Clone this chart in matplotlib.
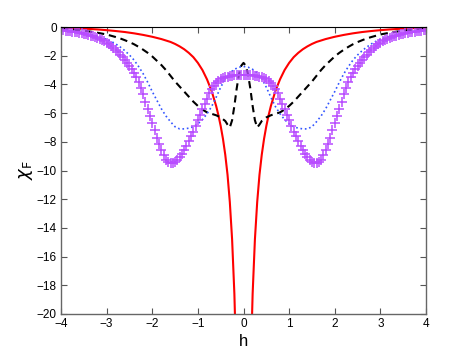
import numpy as np
import matplotlib
matplotlib.use("Agg")
import matplotlib.pyplot as plt

plt.rcParams['font.family'] = ['Liberation Sans', 'DejaVu Sans']

# curves are symmetric in h, values read for h >= 0 and mirrored

# magenta plus markers, h = 0 .. 4 step 0.05
h_plus = np.round(np.arange(0, 4.0001, 0.05), 2)
chi_plus = [-3.35, -3.35, -3.35, -3.35, -3.36, -3.38, -3.40, -3.45, -3.50, -3.57,
            -3.65, -3.76, -3.90, -4.08, -4.30, -4.62, -5.00, -5.35, -5.70, -6.10,
            -6.50, -6.90, -7.30, -7.63, -7.95, -8.28, -8.60, -8.85, -9.05, -9.25,
            -9.40, -9.48, -9.50, -9.42, -9.25, -8.95, -8.60, -8.17, -7.70, -7.20,
            -6.70, -6.20, -5.70, -5.20, -4.70, -4.25, -3.85, -3.50, -3.20, -2.93,
            -2.70, -2.48, -2.30, -2.12, -1.95, -1.77, -1.60, -1.45, -1.32, -1.20,
            -1.10, -1.00, -0.92, -0.85, -0.78, -0.72, -0.66, -0.61, -0.56, -0.52,
            -0.48, -0.44, -0.41, -0.38, -0.35, -0.32, -0.30, -0.28, -0.26, -0.24,
            -0.22]

# blue dotted
h_dot = [0.0, 0.1, 0.2, 0.3, 0.4, 0.5, 0.6, 0.7, 0.8, 0.9, 1.0, 1.1, 1.2, 1.3,
         1.4, 1.5, 1.6, 1.7, 1.8, 1.9, 2.0, 2.1, 2.2, 2.3, 2.4, 2.5, 2.6, 2.7,
         2.8, 2.9, 3.0, 3.2, 3.4, 3.6, 3.8, 4.0]
chi_dot = [-2.75, -2.8, -2.95, -3.2, -3.6, -4.2, -4.9, -5.55, -6.05, -6.45,
           -6.75, -6.95, -7.05, -7.1, -7.1, -6.95, -6.6, -6.2, -5.7, -5.1,
           -4.5, -3.85, -3.25, -2.75, -2.3, -1.95, -1.65, -1.4, -1.18, -1.0,
           -0.86, -0.64, -0.48, -0.37, -0.29, -0.22]

# black dashed
h_dash = [0.0, 0.05, 0.1, 0.15, 0.2, 0.25, 0.3, 0.35, 0.4, 0.5, 0.6, 0.7, 0.8,
          0.9, 1.0, 1.1, 1.2, 1.3, 1.4, 1.5, 1.6, 1.7, 1.8, 1.9, 2.0, 2.1, 2.2,
          2.3, 2.4, 2.5, 2.6, 2.7, 2.8, 3.0, 3.2, 3.4, 3.6, 3.8, 4.0]
chi_dash = [-2.5, -2.7, -3.3, -4.3, -5.5, -6.5, -7.0, -6.8, -6.55, -6.3, -6.15,
            -6.05, -5.95, -5.75, -5.5, -5.2, -4.85, -4.5, -4.15, -3.8, -3.4,
            -3.0, -2.65, -2.35, -2.05, -1.8, -1.58, -1.38, -1.2, -1.05, -0.92,
            -0.8, -0.7, -0.52, -0.4, -0.3, -0.22, -0.17, -0.13]

# red solid
h_red = [0.10, 0.15, 0.20, 0.25, 0.30, 0.35, 0.40, 0.45, 0.50, 0.55, 0.60, 0.70,
         0.80, 0.90, 1.00, 1.10, 1.20, 1.30, 1.40, 1.50, 1.60, 1.80, 2.00, 2.20,
         2.40, 2.60, 2.80, 3.00, 3.20, 3.40, 3.60, 3.80, 4.00]
chi_red = [-36, -24.5, -18.6, -14.8, -12.2, -10.3, -8.9, -7.8, -6.9, -6.15, -5.5,
           -4.45, -3.65, -3.0, -2.5, -2.1, -1.8, -1.55, -1.35, -1.18, -1.04,
           -0.84, -0.68, -0.55, -0.44, -0.35, -0.28, -0.22, -0.17, -0.13, -0.1,
           -0.07, -0.05]


def mirror(h, y, has_zero=True):
    h = np.asarray(h, float)
    y = np.asarray(y, float)
    if has_zero:
        return np.concatenate([-h[:0:-1], h]), np.concatenate([y[:0:-1], y])
    return np.concatenate([-h[::-1], h]), np.concatenate([y[::-1], y])


fig = plt.figure(figsize=(4.71, 3.54), dpi=100)
ax = fig.add_axes([0.1295, 0.113, 0.775, 0.8107])

x, y = mirror(h_red, chi_red, has_zero=False)
ax.plot(x, y, '-', color='red', lw=1.5)
x, y = mirror(h_dash, chi_dash)
ax.plot(x, y, '--', color='black', lw=1.5, dashes=(3.5, 2.3))
x, y = mirror(h_dot, chi_dot)
ax.plot(x, y, ':', color='#3355ff', lw=1.2)
x, y = mirror(h_plus, chi_plus)
ax.plot(x, y, '+', color='#b84cff', ms=6.5, mew=1.1, linestyle='none')

ax.set_xlim(-4, 4)
ax.set_ylim(-20, 0)
ax.set_xticks(range(-4, 5))
ax.set_yticks(range(-20, 1, 2))
ax.tick_params(direction='in', top=True, right=True, labelsize=8.5, length=4,
               color='#555555', pad=3)
for s in ['left', 'bottom', 'right']:
    ax.spines[s].set_color('#666666')
    ax.spines[s].set_linewidth(1.0)
ax.spines['top'].set_color('black')

ax.set_xlabel('h', fontsize=12, labelpad=3)
ax.set_ylabel(r'$\chi_{\mathrm{F}}$', fontsize=13, labelpad=1)

fig.savefig('out.png', dpi=100)
